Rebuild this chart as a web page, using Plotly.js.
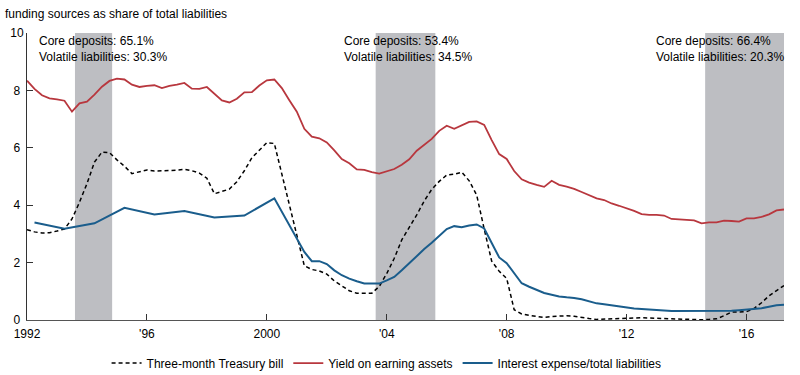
<!DOCTYPE html>
<html>
<head>
<meta charset="utf-8">
<script src="https://cdn.plot.ly/plotly-3.0.1.min.js"></script>
<style>html,body{margin:0;padding:0;background:#fff;}#chart{width:800px;height:375px;}</style>
</head>
<body>
<div id="chart"></div>
<script>
// Quarterly dates (decimal years) for T-bill and yield series
var quarters = [
 1992.00,1992.25,1992.50,1992.75,1993.00,1993.25,1993.50,1993.75,
 1994.00,1994.25,1994.50,1994.75,1995.00,1995.25,1995.50,1995.75,
 1996.00,1996.25,1996.50,1996.75,1997.00,1997.25,1997.50,1997.75,
 1998.00,1998.25,1998.50,1998.75,1999.00,1999.25,1999.50,1999.75,
 2000.00,2000.25,2000.50,2000.75,2001.00,2001.25,2001.50,2001.75,
 2002.00,2002.25,2002.50,2002.75,2003.00,2003.25,2003.50,2003.75,
 2004.00,2004.25,2004.50,2004.75,2005.00,2005.25,2005.50,2005.75,
 2006.00,2006.25,2006.50,2006.75,2007.00,2007.25,2007.50,2007.75,
 2008.00,2008.25,2008.50,2008.75,2009.00,2009.25,2009.50,2009.75,
 2010.00,2010.25,2010.50,2010.75,2011.00,2011.25,2011.50,2011.75,
 2012.00,2012.25,2012.50,2012.75,2013.00,2013.25,2013.50,2013.75,
 2014.00,2014.25,2014.50,2014.75,2015.00,2015.25,2015.50,2015.75,
 2016.00,2016.25,2016.50,2016.75,2017.00,2017.25
];

var tbill = [
 3.15,3.07,3.03,3.04, 3.10,3.17,3.52,4.10,
 4.75,5.50,5.85,5.83, 5.58,5.36,5.10,5.17,
 5.23,5.19,5.20,5.20, 5.22,5.25,5.20,5.12,
 4.94,4.40,4.47,4.56, 4.82,5.20,5.65,5.90,
 6.18,6.15,5.10,4.00, 2.97,1.89,1.76,1.71,
 1.60,1.36,1.19,1.02, 0.93,0.92,0.93,1.17,
 1.62,2.15,2.79,3.23, 3.66,4.15,4.55,4.83,
 5.05,5.08,5.15,4.85, 4.35,3.17,2.05,1.70,
 1.45,0.36,0.21,0.16, 0.13,0.09,0.12,0.14,
 0.15,0.13,0.08,0.05, 0.02,0.03,0.05,0.06,
 0.08,0.08,0.08,0.07, 0.05,0.05,0.04,0.03,
 0.02,0.01,0.01,0.02, 0.04,0.15,0.28,0.28,
 0.29,0.40,0.60,0.84, 1.03,1.20
];

var yieldAssets = [
 8.34,8.05,7.83,7.72, 7.69,7.64,7.26,7.55,
 7.61,7.85,8.13,8.33, 8.41,8.38,8.20,8.12,
 8.16,8.18,8.08,8.16, 8.20,8.26,8.06,8.05,
 8.12,7.87,7.65,7.58, 7.71,7.93,7.94,8.17,
 8.35,8.38,8.08,7.66, 7.26,6.66,6.39,6.33,
 6.19,5.91,5.61,5.46, 5.25,5.23,5.15,5.10,
 5.19,5.26,5.41,5.60, 5.90,6.09,6.31,6.59,
 6.77,6.66,6.78,6.90, 6.92,6.80,6.27,5.78,
 5.61,5.19,4.90,4.79, 4.71,4.64,4.85,4.71,
 4.65,4.57,4.46,4.36, 4.24,4.18,4.06,3.98,
 3.90,3.80,3.69,3.66, 3.66,3.64,3.52,3.50,
 3.49,3.47,3.37,3.40, 3.40,3.46,3.45,3.43,
 3.54,3.54,3.59,3.68, 3.82,3.85
];

// Interest expense: annual points to 2001, quarterly afterwards
var expenseDates = [
 1992.25,1993.25,1994.25,1995.25,1996.25,1997.25,1998.25,1999.25,2000.25,2001.25,
 2001.50,2001.75,2002.00,2002.25,2002.50,2002.75,2003.00,2003.25,2003.50,2003.75,
 2004.00,2004.25,2004.50,2004.75,2005.00,2005.25,2005.50,2005.75,
 2006.00,2006.25,2006.50,2006.75,2007.00,2007.25,2007.50,2007.75,
 2008.00,2008.25,2008.50,2008.75,2009.00,2009.25,2009.50,2009.75,
 2010.00,2010.25,2010.50,2010.75,2011.00,2011.25,2011.50,2011.75,
 2012.00,2012.25,2012.50,2012.75,2013.00,2013.25,2013.50,2013.75,
 2014.00,2014.25,2014.50,2014.75,2015.00,2015.25,2015.50,2015.75,
 2016.00,2016.25,2016.50,2016.75,2017.00,2017.25
];
var interestExpense = [
 3.40,3.18,3.37,3.91,3.68,3.80,3.57,3.64,4.24,2.37,
 2.05,2.05,1.95,1.73,1.56,1.44,1.35,1.27,1.27,1.27,
 1.38,1.50,1.73,1.98,2.21,2.47,2.69,2.92,
 3.17,3.27,3.23,3.29,3.33,3.19,2.67,2.18,
 1.98,1.62,1.28,1.16,1.06,0.94,0.88,0.82,
 0.79,0.77,0.72,0.65,0.58,0.55,0.51,0.48,
 0.45,0.40,0.38,0.37,0.35,0.33,0.31,0.31,
 0.30,0.30,0.30,0.30,0.30,0.31,0.32,0.34,
 0.36,0.38,0.41,0.46,0.51,0.53
];

var shadedPeriods = [[1993.6, 1994.84], [2003.63, 2005.62], [2014.62, 2017.25]];
var periodLabels = [
 'Core deposits: 65.1%<br>Volatile liabilities: 30.3%',
 'Core deposits: 53.4%<br>Volatile liabilities: 34.5%',
 'Core deposits: 66.4%<br>Volatile liabilities: 20.3%'
];
var tickYears = [1992, 1996, 2000, 2004, 2008, 2012, 2016];
var tickLabels = ['1992', "'96", '2000', "'04", "'08", "'12", "'16"];
var yTicks = [0, 2, 4, 6, 8, 10];
var yTickLabels = ['0\u00A0', '2\u00A0', '4\u00A0', '6\u00A0', '8\u00A0', '10'];

var FONT = 'Liberation Sans, Arial, Helvetica, sans-serif';

var traces = [
 {x: quarters, y: tbill, type: 'scatter', mode: 'lines', name: 'Three-month Treasury bill',
  line: {color: '#000000', width: 1.5, dash: '4px,3px'}},
 {x: quarters, y: yieldAssets, type: 'scatter', mode: 'lines', name: 'Yield on earning assets',
  line: {color: '#b8373e', width: 1.8}},
 {x: expenseDates, y: interestExpense, type: 'scatter', mode: 'lines', name: 'Interest expense/total liabilities',
  line: {color: '#1a5d8c', width: 2}}
];

var shapes = shadedPeriods.map(function(p){
  return {type: 'rect', xref: 'x', yref: 'y', x0: p[0], x1: p[1], y0: 0, y1: 10,
          fillcolor: '#bdbec2', line: {width: 0}, layer: 'below'};
});

var annX = [1992.38, 2002.54, 2012.94];
var annotations = periodLabels.map(function(t, i){
  return {text: t, x: annX[i], y: 10, xref: 'x', yref: 'y', xanchor: 'left', yanchor: 'top',
          showarrow: false, align: 'left', borderpad: 0, font: {family: FONT, size: 12, color: '#000'}};
});

var layout = {
  width: 800, height: 375,
  margin: {l: 27, r: 16, t: 33, b: 55, autoexpand: false},
  paper_bgcolor: '#ffffff', plot_bgcolor: '#ffffff',
  font: {family: FONT, size: 12, color: '#000'},
  title: {text: 'funding sources as share of total liabilities', xref: 'container', yref: 'container',
          x: 5/800, xanchor: 'left', y: 1 - 14/375, yanchor: 'middle', automargin: false,
          font: {family: FONT, size: 12, color: '#000'}},
  xaxis: {range: [1992, 2017.25], tickvals: tickYears, ticktext: tickLabels, ticks: 'inside', ticklen: 6,
          tickcolor: '#333', showgrid: false, zeroline: false, showline: true, linecolor: '#555', linewidth: 1,
          ticklabelstandoff: 3,
          tickfont: {family: FONT, size: 12, color: '#000'}, fixedrange: true},
  yaxis: {range: [0, 10], tickvals: yTicks, ticktext: yTickLabels, ticks: 'inside', ticklen: 6,
          tickcolor: '#333', showgrid: false, zeroline: false, showline: true, linecolor: '#333', linewidth: 1,
          tickfont: {family: FONT, size: 12, color: '#000'}, fixedrange: true},
  showlegend: true,
  legend: {orientation: 'h', x: 0.475, xanchor: 'center', y: -0.15, yanchor: 'middle',
           font: {family: FONT, size: 12, color: '#000'}, itemwidth: 30, bgcolor: 'rgba(0,0,0,0)'},
  shapes: shapes,
  annotations: annotations
};

Plotly.newPlot('chart', traces, layout, {displayModeBar: false, staticPlot: true});
</script>
</body>
</html>
